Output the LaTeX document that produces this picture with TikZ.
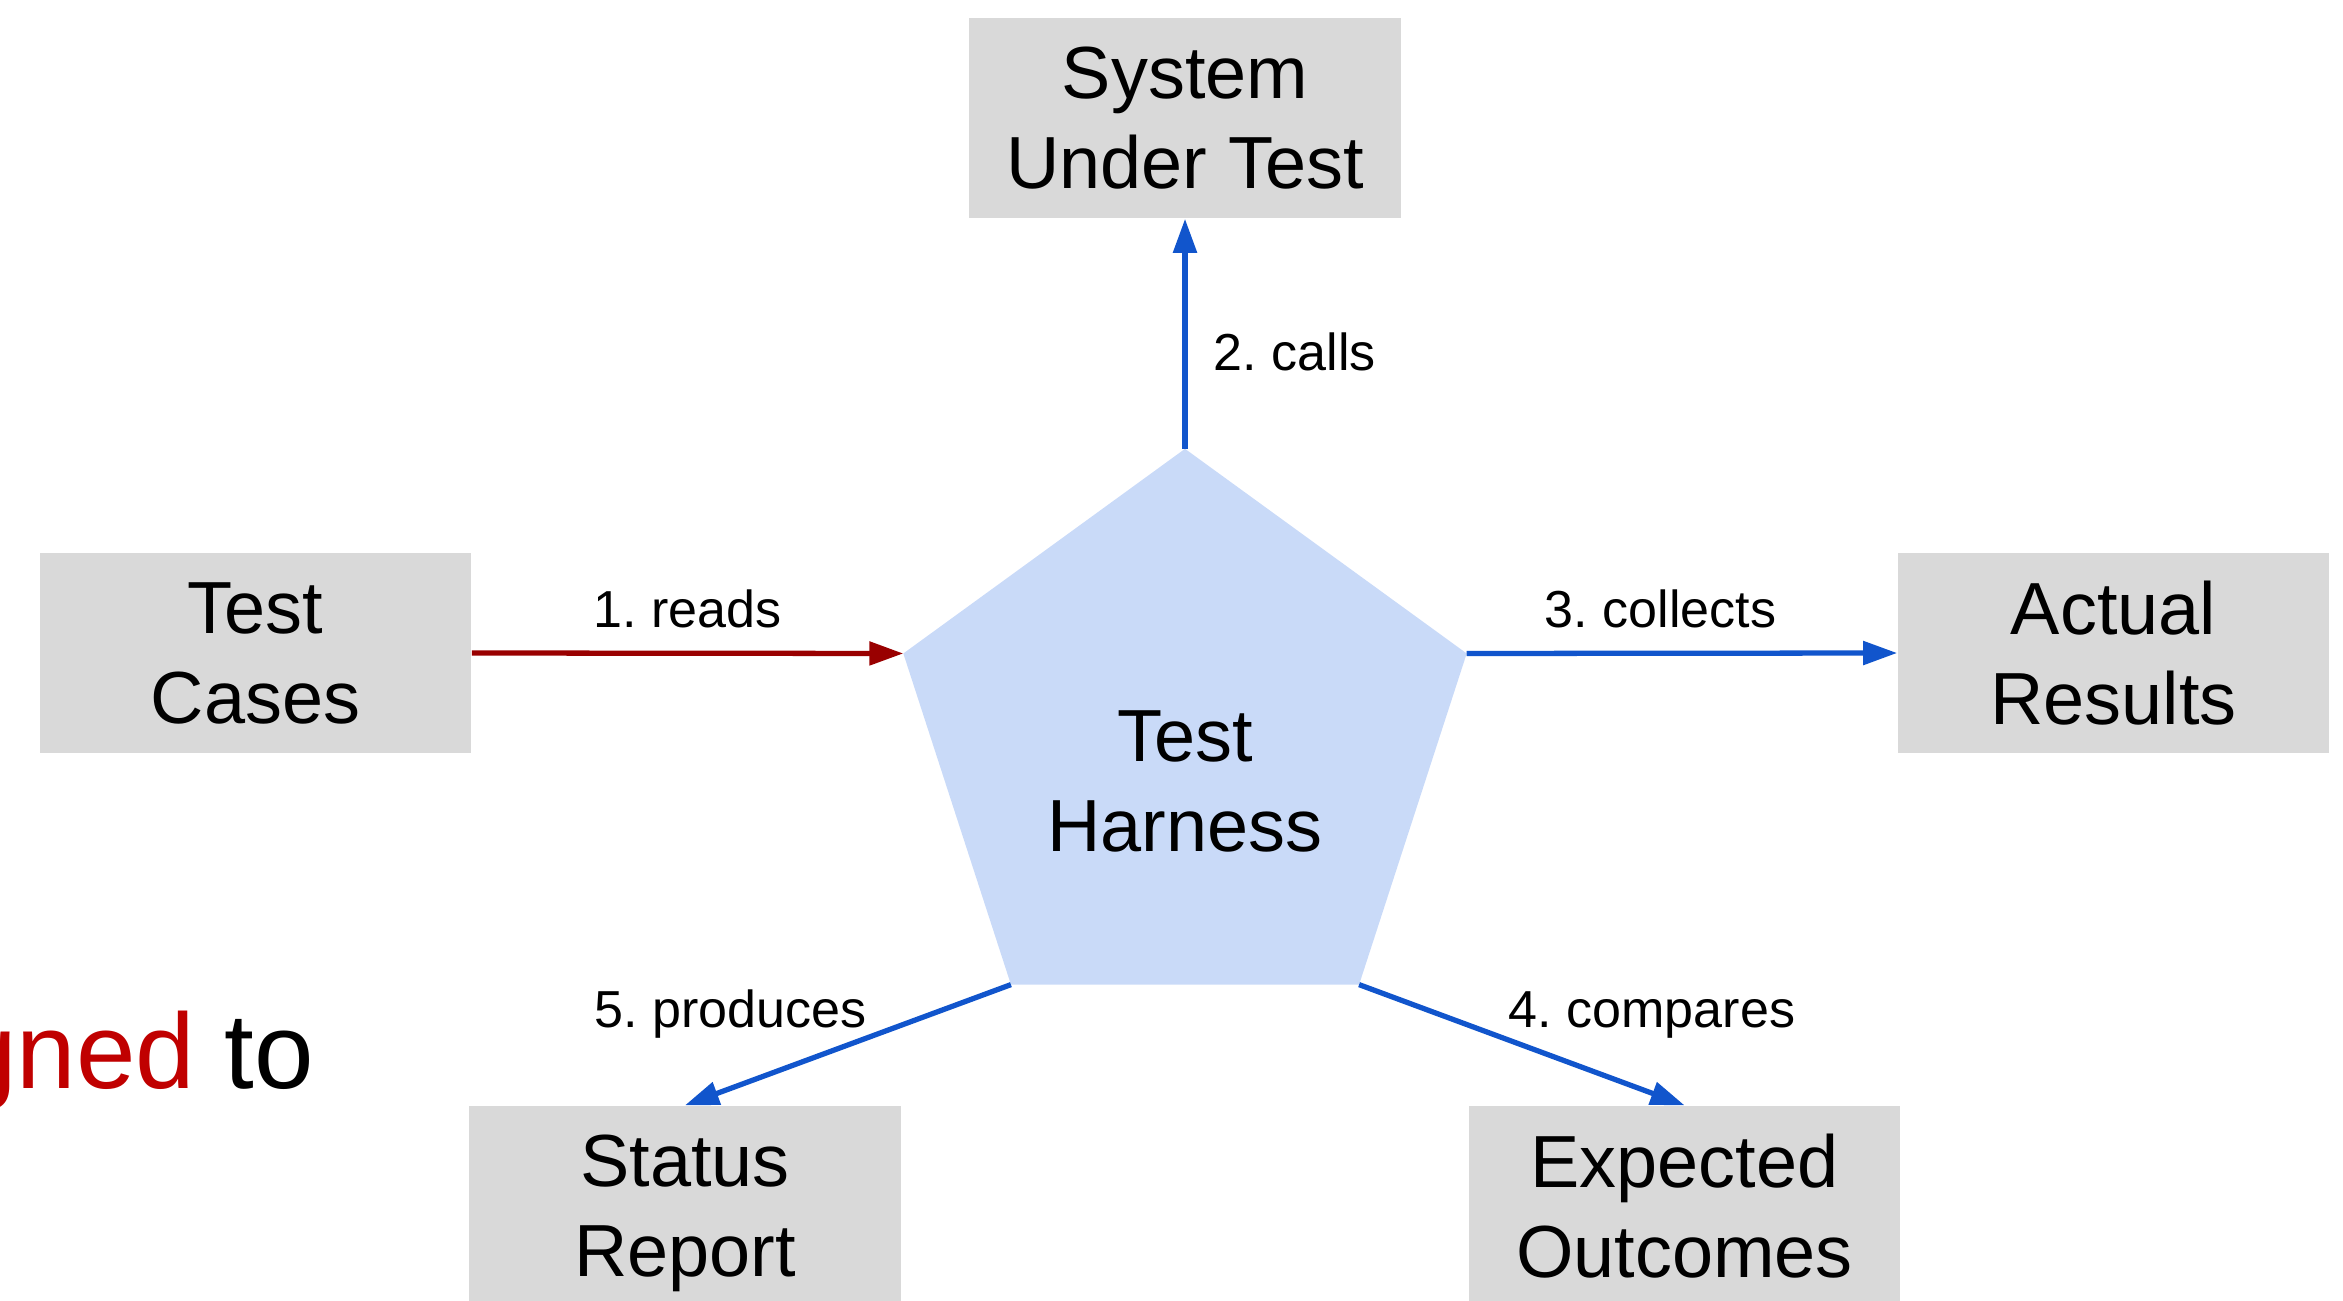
\documentclass[tikz,border=0pt]{standalone}
\usepackage{fontspec}
\setmainfont{Liberation Sans}
\usetikzlibrary{shapes.geometric}
\usetikzlibrary{arrows.meta}
\usetikzlibrary{positioning}
\definecolor{boxgray}{HTML}{D9D9D9}
\definecolor{harnessblue}{HTML}{C9DAF8}
\definecolor{flowblue}{HTML}{1155CC}
\definecolor{flowred}{HTML}{990000}
\definecolor{slidered}{HTML}{C00000}
\frenchspacing

\begin{document}
\begin{tikzpicture}[x=0.01cm, y=-0.01cm,
  part/.style={fill=boxgray, minimum width=4.31cm, minimum height=2cm, inner sep=0pt, align=center, text depth=0pt, font=\fontsize{21}{25.6}\selectfont},
  parttext/.style={inner sep=0pt, align=center, text depth=0pt, font=\fontsize{21}{25.6}\selectfont},
  harnessshape/.style={regular polygon, regular polygon sides=5, minimum size=5.92cm, inner sep=0pt, outer sep=0pt, fill=harnessblue},
  blueflow/.style={-{Triangle[length=0.34cm, width=0.23cm]}, line width=1.5pt, color=flowblue},
  redflow/.style={-{Triangle[length=0.34cm, width=0.23cm]}, line width=1.5pt, color=flowred},
  steplabel/.style={inner sep=0pt, text depth=0pt, text=black, font=\fontsize{14.8}{17}\selectfont}]

\useasboundingbox (0, 0) rectangle (2343, 1300);

\node[harnessshape] (harness) at (1185, 745) {};
\node[parttext] (harnesstext) at (1185, 781) {Test\\Harness};

\node[part] (sut) at (1185, 118) {System\\Under Test};
\node[part] (cases) at (255.5, 653) {Test\\Cases};
\node[part] (results) at (2113.5, 653) {Actual\\Results};
\node[part] (status) at (685, 1206) {Status\\Report};
\node[part] (expected) at (1684.5, 1206) {Expected\\Outcomes};

\draw[redflow] (cases.east) -- (harness.corner 2) node[steplabel, midway, above=0.23cm] {1. reads};
\draw[blueflow] (harness.corner 1) -- (sut.south) node[steplabel, pos=0.34, anchor=base west, xshift=0.26cm] {2. calls};
\draw[blueflow] (harness.corner 5) -- (results.west) node[steplabel, pos=0.45, above=0.23cm] {3. collects};
\draw[blueflow] (harness.corner 4) -- (expected.north) node[steplabel, pos=0.9, anchor=base, yshift=0.66cm] {4. compares};
\draw[blueflow] (harness.corner 3) -- (status.north) node[steplabel, pos=0.86, anchor=base, yshift=0.61cm] {5. produces};

\node[anchor=base west, inner sep=0pt, font=\fontsize{30.4}{36}\selectfont] (slidetext) at (-43.5, 1088) {\textcolor{slidered}{gned} to};

\end{tikzpicture}
\end{document}
